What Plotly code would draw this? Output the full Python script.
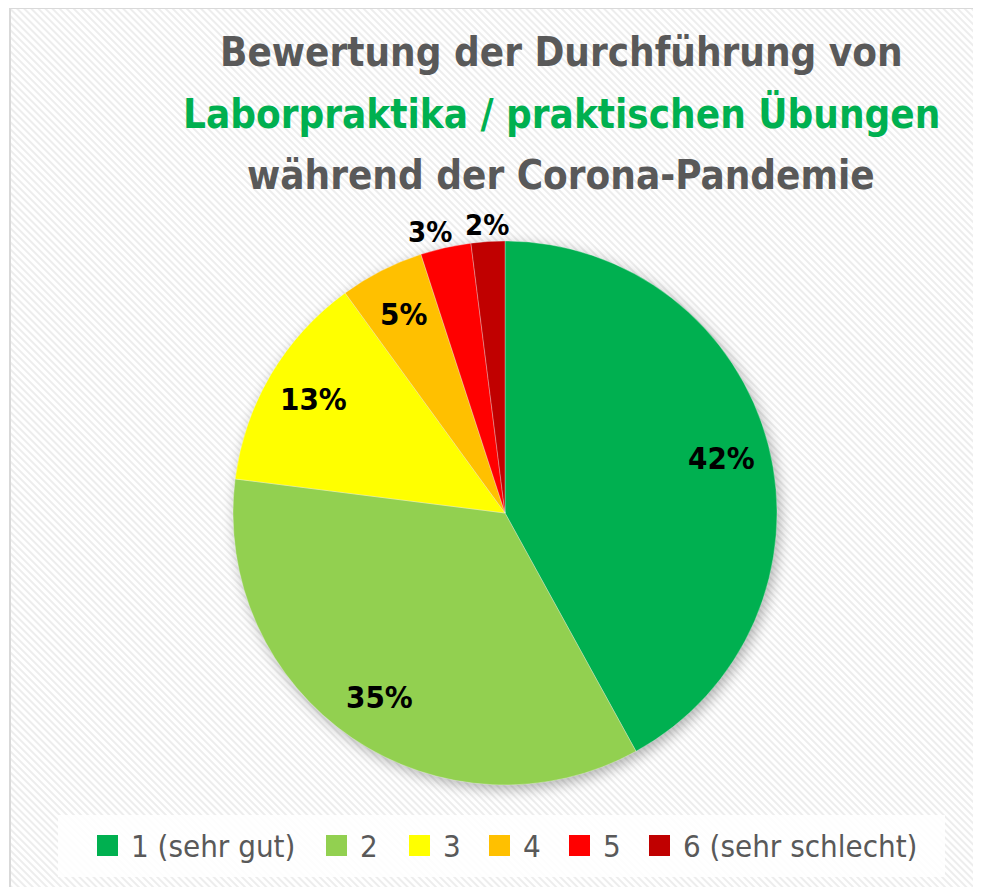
import base64
import math
import plotly.graph_objects as go

# ---- data ----
categories = ["1 (sehr gut)", "2", "3", "4", "5", "6 (sehr schlecht)"]
shares = [42, 35, 13, 5, 3, 2]
colors = ["#00B050", "#92D050", "#FFFF00", "#FFC000", "#FF0000", "#C00000"]
title_lines = ["Bewertung der Durchführung von",
               "Laborpraktika / praktischen Übungen",
               "während der Corona-Pandemie"]
title_colors = ["#595959", "#00B050", "#595959"]

# ---- layout (page pixels; the page body has an 8px margin) ----
OFF = 8
W, H = 981 - OFF, 887 - OFF
FONT = "DejaVu Sans Condensed, DejaVu Sans, sans-serif"


def px(x):
    return (x - OFF) / W


def py(y):
    return 1 - (y - OFF) / H


cx, cy, r = 505, 513, 272          # pie centre / radius (page px)
title_x = 561
title_y = [52, 113.5, 175]
legend_marker_x = [97, 326, 409, 489, 569, 649]
legend_marker = (21, 835, 856)     # width, top, bottom
legend_text_gap = 32
legend_text_y = 846

# background: frame, diagonal hatch, pie shadow, legend box
fcx, fcy = cx - OFF, cy - OFF
svg = f'''<svg xmlns="http://www.w3.org/2000/svg" width="{W}" height="{H}" viewBox="0 0 {W} {H}">
<defs>
<pattern id="h" patternUnits="userSpaceOnUse" width="5" height="5" patternTransform="rotate(-45)">
<rect width="5" height="5" fill="#ffffff"/>
<rect width="2" height="5" fill="#ededed"/>
</pattern>
<filter id="b" x="-30%" y="-30%" width="160%" height="160%"><feGaussianBlur stdDeviation="7"/></filter>
</defs>
<rect x="0" y="0" width="{W}" height="{H}" fill="#ffffff"/>
<rect x="2" y="0" width="{W + 20}" height="{H + 20}" fill="url(#h)" stroke="#d9d9d9" stroke-width="2"/>
<circle cx="{fcx + 3}" cy="{fcy + 4}" r="{r}" fill="#000000" opacity="0.30" filter="url(#b)"/>
<rect x="{58 - OFF}" y="{815 - OFF}" width="887" height="62" fill="#ffffff" opacity="0.85"/>
</svg>'''
uri = "data:image/svg+xml;base64," + base64.b64encode(svg.encode()).decode()

fig = go.Figure()
fig.add_trace(go.Pie(
    labels=categories,
    values=shares,
    sort=False,
    direction="clockwise",
    rotation=0,
    marker=dict(colors=colors, line=dict(color="rgba(255,255,255,0.6)", width=0.5)),
    textinfo="none",
    domain=dict(x=[px(cx - r), px(cx + r)], y=[py(cy + r), py(cy - r)]),
    hoverinfo="label+percent",
    showlegend=False,
))

# percentage labels placed from the data (best-fit like placement)
total = sum(shares)
cum = 0
for v in shares:
    mid = (cum + v / 2) / total
    cum += v
    ang = 2 * math.pi * mid
    inside = v / total >= 0.05
    k = 0.82 if inside else 1.06
    lx = cx + k * r * math.sin(ang)
    ly = cy - k * r * math.cos(ang)
    if not inside:
        lx += 12 * math.sin(ang) / abs(math.sin(ang)) * (1 if abs(math.sin(ang)) > 0.15 else 0)
    fig.add_annotation(text=f"<b>{round(100 * v / total)}%</b>", x=px(lx), y=py(ly),
                       xref="paper", yref="paper", showarrow=False,
                       xanchor="center", yanchor="middle",
                       font=dict(family=FONT, size=31 if inside else 29, color="#000000"))

# title
for txt, col, yy in zip(title_lines, title_colors, title_y):
    fig.add_annotation(text=f"<b>{txt}</b>", x=px(title_x), y=py(yy), xref="paper", yref="paper",
                       xanchor="center", yanchor="middle", showarrow=False,
                       font=dict(family=FONT, size=40, color=col))

# legend
mw, mt, mb = legend_marker
for cat, col, mx in zip(categories, colors, legend_marker_x):
    fig.add_shape(type="rect", xref="paper", yref="paper",
                  x0=px(mx), x1=px(mx + mw), y0=py(mb), y1=py(mt),
                  fillcolor=col, line=dict(width=0))
    fig.add_annotation(text=cat, x=px(mx + legend_text_gap), y=py(legend_text_y),
                       xref="paper", yref="paper", xanchor="left", yanchor="middle",
                       showarrow=False, font=dict(family=FONT, size=31, color="#595959"))

fig.update_layout(
    width=W, height=H,
    margin=dict(l=0, r=0, t=0, b=0),
    paper_bgcolor="#ffffff",
    images=[dict(source=uri, xref="paper", yref="paper", x=0, y=1, sizex=1, sizey=1,
                 xanchor="left", yanchor="top", sizing="stretch", layer="below")],
    showlegend=False,
)

fig.write_html("out.html")
